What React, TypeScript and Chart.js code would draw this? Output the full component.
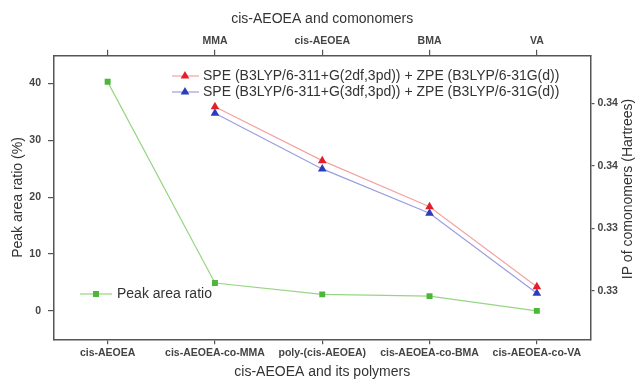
import React, { useEffect, useRef } from 'react';
import { Chart, registerables } from 'chart.js';

Chart.register(...registerables);

const categories = ['cis-AEOEA', 'cis-AEOEA-co-MMA', 'poly-(cis-AEOEA)', 'cis-AEOEA-co-BMA', 'cis-AEOEA-co-VA'];
const topLabels = ['', 'MMA', 'cis-AEOEA', 'BMA', 'VA'];
const peakAreaRatio = [40.3, 4.9, 2.9, 2.6, 0.0];
const ip2df = [null, 0.34178, 0.33833, 0.33538, 0.33026];
const ip3df = [null, 0.34136, 0.3378, 0.33496, 0.32984];
const leftTicks = [0, 10, 20, 30, 40];
const rightTicks = [0.33, 0.334, 0.338, 0.342];
const seriesNames = [
  'SPE (B3LYP/6-311+G(2df,3pd)) + ZPE (B3LYP/6-31G(d))',
  'SPE (B3LYP/6-311+G(3df,3pd)) + ZPE (B3LYP/6-31G(d))',
  'Peak area ratio',
];
const titles = {
  bottom: 'cis-AEOEA and its polymers',
  top: 'cis-AEOEA and comonomers',
  left: 'Peak area ratio (%)',
  right: 'IP of comonomers (Hartrees)',
};

const FONT = "'Liberation Sans', Arial, sans-serif";
const AXIS = '#555555';
const TEXT = '#333333';
const RED = '#e3202a';
const RED_LINE = '#f3a3a3';
const BLUE = '#2b3dbd';
const BLUE_LINE = '#9a9ee0';
const GREEN = '#4cb63a';
const GREEN_LINE = '#96d683';

function tri(ctx: CanvasRenderingContext2D, x: number, y: number, r: number, color: string) {
  ctx.beginPath();
  ctx.moveTo(x, y - r);
  ctx.lineTo(x + 0.866 * r, y + 0.5 * r);
  ctx.lineTo(x - 0.866 * r, y + 0.5 * r);
  ctx.closePath();
  ctx.fillStyle = color;
  ctx.fill();
}

const overlay = {
  id: 'overlay',
  afterDraw(chart: any) {
    const ctx: CanvasRenderingContext2D = chart.ctx;
    ctx.save();
    ctx.font = `14px ${FONT}`;
    ctx.textBaseline = 'middle';
    ctx.textAlign = 'left';
    // legend 1
    const rows = [
      { y: 76, line: RED_LINE, mark: RED, text: seriesNames[0] },
      { y: 92, line: BLUE_LINE, mark: BLUE, text: seriesNames[1] },
    ];
    rows.forEach((r) => {
      ctx.strokeStyle = r.line;
      ctx.lineWidth = 1.2;
      ctx.beginPath();
      ctx.moveTo(172, r.y);
      ctx.lineTo(199, r.y);
      ctx.stroke();
      tri(ctx, 185, r.y, 5, r.mark);
      ctx.fillStyle = TEXT;
      ctx.fillText(r.text, 203, r.y);
    });
    // legend 2
    ctx.strokeStyle = GREEN_LINE;
    ctx.lineWidth = 1.2;
    ctx.beginPath();
    ctx.moveTo(80, 294);
    ctx.lineTo(112, 294);
    ctx.stroke();
    ctx.fillStyle = GREEN;
    ctx.fillRect(93, 291, 6, 6);
    ctx.fillStyle = TEXT;
    ctx.fillText(seriesNames[2], 117, 294);
    // right title
    ctx.translate(628, 189);
    ctx.rotate(-Math.PI / 2);
    ctx.textAlign = 'center';
    ctx.fillText(titles.right, 0, 0);
    ctx.restore();
  },
};

export default function App() {
  const ref = useRef<HTMLCanvasElement>(null);
  useEffect(() => {
    if (!ref.current) return;
    const tickFont = { family: FONT, size: 10.5, weight: 'bold' as const };
    const titleFont = { family: FONT, size: 14 };
    const chart = new Chart(ref.current, {
      type: 'line',
      data: {
        labels: categories,
        datasets: [
          {
            label: seriesNames[0],
            data: ip2df,
            xAxisID: 'x',
            yAxisID: 'y2',
            borderColor: RED_LINE,
            borderWidth: 1.2,
            pointStyle: 'triangle',
            pointRadius: 5,
            pointBackgroundColor: RED,
            pointBorderColor: RED,
            pointBorderWidth: 0,
          },
          {
            label: seriesNames[1],
            data: ip3df,
            xAxisID: 'x',
            yAxisID: 'y2',
            borderColor: BLUE_LINE,
            borderWidth: 1.2,
            pointStyle: 'triangle',
            pointRadius: 5,
            pointBackgroundColor: BLUE,
            pointBorderColor: BLUE,
            pointBorderWidth: 0,
          },
          {
            label: seriesNames[2],
            data: peakAreaRatio,
            xAxisID: 'x',
            yAxisID: 'y',
            borderColor: GREEN_LINE,
            borderWidth: 1.2,
            pointStyle: 'rect',
            pointRadius: 4.2,
            pointBackgroundColor: GREEN,
            pointBorderColor: GREEN,
            pointBorderWidth: 0,
          },
        ],
      },
      options: {
        animation: false,
        responsive: false,
        events: [],
        layout: { padding: 0 },
        plugins: { legend: { display: false }, tooltip: { enabled: false } },
        scales: {
          x: {
            type: 'category',
            position: 'bottom',
            offset: true,
            grid: { display: true, drawOnChartArea: false, drawTicks: true, tickLength: 5, color: AXIS, lineWidth: 1.2, offset: false },
            border: { display: true, color: AXIS, width: 1.5 },
            ticks: { font: tickFont, color: '#444', padding: 3, autoSkip: false, maxRotation: 0 },
            title: { display: true, text: titles.bottom, font: titleFont, color: TEXT, padding: { top: 0, bottom: 0.6 } },
            afterFit: (s: any) => { s.height = 41.7; },
          },
          x2: {
            type: 'category',
            position: 'top',
            labels: topLabels,
            offset: true,
            grid: { display: true, drawOnChartArea: false, drawTicks: true, tickLength: 6, color: AXIS, lineWidth: 1.2, offset: false },
            border: { display: true, color: AXIS, width: 1.5 },
            ticks: { font: tickFont, color: '#444', padding: 2, autoSkip: false, maxRotation: 0 },
            title: { display: true, text: titles.top, font: titleFont, color: TEXT, padding: { top: 10.6, bottom: 0 } },
            afterFit: (s: any) => { s.height = 55.7; },
          },
          y: {
            type: 'linear',
            position: 'left',
            min: -5,
            max: 44.9,
            afterBuildTicks: (s: any) => { s.ticks = leftTicks.map((v) => ({ value: v })); },
            grid: { display: true, drawOnChartArea: false, drawTicks: true, tickLength: 6, color: AXIS, lineWidth: 1.2 },
            border: { display: true, color: AXIS, width: 1.5 },
            ticks: { font: tickFont, color: '#444', padding: 7 },
            title: { display: true, text: titles.left, font: titleFont, color: TEXT, padding: { top: 9.3, bottom: 0 } },
            afterFit: (s: any) => { s.width = 54; },
          },
          y2: {
            type: 'linear',
            position: 'right',
            min: 0.32689,
            max: 0.34505,
            afterBuildTicks: (s: any) => { s.ticks = rightTicks.map((v) => ({ value: v })); },
            grid: { display: true, drawOnChartArea: false, drawTicks: true, tickLength: 4, color: AXIS, lineWidth: 1.2 },
            border: { display: true, color: AXIS, width: 1.5 },
            ticks: { font: tickFont, color: '#444', padding: 3, callback: (v: any) => Number(v).toFixed(2) },
            title: { display: false },
            afterFit: (s: any) => { s.width = 44.5; },
          },
        },
      },
      plugins: [overlay],
    });
    return () => chart.destroy();
  }, []);
  return (
    <div style={{ position: 'absolute', left: 0, top: 0, width: 635, height: 381, background: '#fff' }}>
      <canvas ref={ref} width={635} height={381} />
    </div>
  );
}
